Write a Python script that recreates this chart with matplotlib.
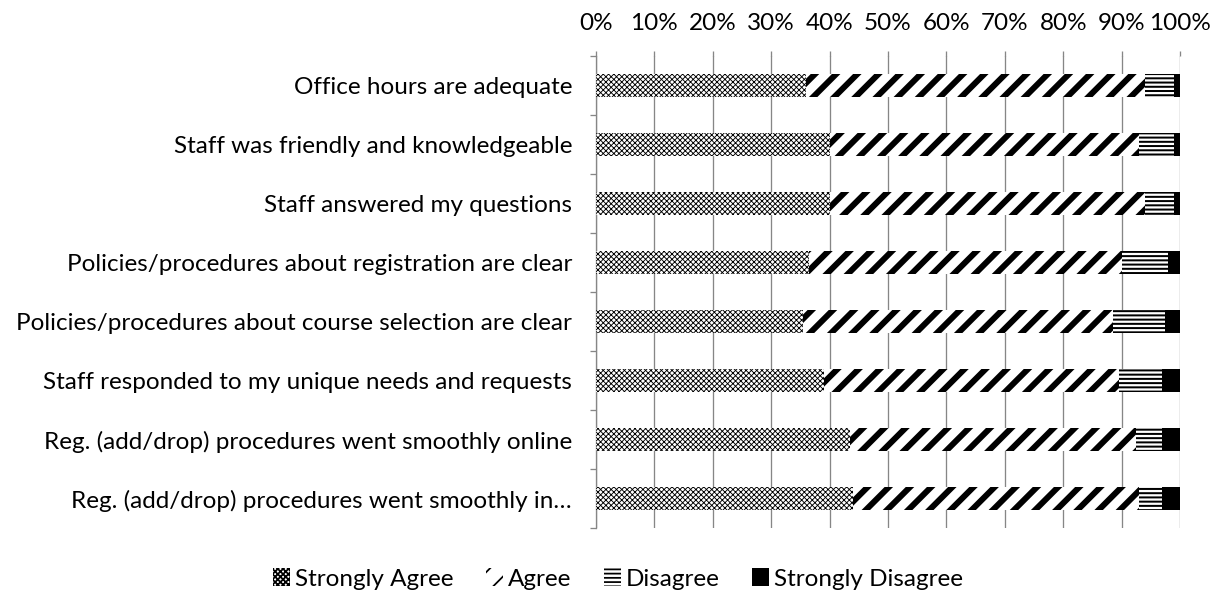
import numpy as np
import matplotlib
matplotlib.use('Agg')
import matplotlib.pyplot as plt
from matplotlib.ticker import PercentFormatter

# data (percent of responses)
questions = ['Office hours are adequate',
             'Staff was friendly and knowledgeable',
             'Staff answered my questions',
             'Policies/procedures about registration are clear',
             'Policies/procedures about course selection are clear',
             'Staff responded to my unique needs and requests',
             'Reg. (add/drop) procedures went smoothly online',
             'Reg. (add/drop) procedures went smoothly in\u2026']
strongly_agree = [36, 40, 40, 36.5, 35.5, 39, 43.5, 44]
agree = [58, 53, 54, 53.5, 53, 50.5, 49, 49]
disagree = [5, 6, 5, 8, 9, 7.5, 4.5, 4]
strongly_disagree = [1, 1, 1, 2, 2.5, 3, 3, 3]
series = ['Strongly Agree', 'Agree', 'Disagree', 'Strongly Disagree']

DPI = 127  # picked so the hatch spacing comes out close to the original


def pt(px):
    # pixel size -> points at this dpi
    return px * 72.0 / DPI


plt.rcParams['font.family'] = ['Lato', 'DejaVu Sans']
fs = pt(24.3)
grey = '#868686'

fig = plt.figure(figsize=(1214 / DPI, 595 / DPI), dpi=DPI)
ax = fig.add_axes([596/1214, 1-528/595, 584/1214, 472/595])

y = np.arange(len(questions))
styles = [('xxxxxxxx', pt(0.9)), ('//', pt(6.0)), ('-----', pt(2.0)), ('', 1.0)]
left = np.zeros(len(questions))
for name, vals, (h, hlw) in zip(series, [strongly_agree, agree, disagree, strongly_disagree], styles):
    vals = np.array(vals)
    with plt.rc_context({'hatch.linewidth': hlw}):
        fc = 'black' if h == '' else 'white'
        bars = ax.barh(y, vals, left=left, height=0.39, color=fc, edgecolor='black',
                       linewidth=0, hatch=h if h else None, label=name, zorder=3)
    for p in bars:
        if hasattr(p, 'set_hatch_linewidth'):
            p.set_hatch_linewidth(hlw)
    left = left + vals

ax.set_xlim(0, 100)
ax.set_ylim(len(questions) - 0.5, -0.5)
ax.xaxis.set_major_formatter(PercentFormatter(decimals=0))
ax.set_xticks(np.arange(0, 101, 10))
ax.xaxis.tick_top()
ax.tick_params(axis='x', which='major', length=pt(5), width=pt(1.3), color=grey,
               pad=pt(17), labelsize=fs)
ax.grid(axis='x', color=grey, linewidth=pt(1.3), zorder=0)

ax.set_yticks(y)
ax.set_yticklabels(questions, fontsize=fs)
ax.tick_params(axis='y', which='major', length=0, pad=pt(24))
ax.set_yticks(np.arange(-0.5, len(questions), 1), minor=True)
ax.tick_params(axis='y', which='minor', length=pt(6), color=grey, width=pt(1.3))

for s in ['top', 'right', 'bottom']:
    ax.spines[s].set_visible(False)
ax.spines['left'].set_color(grey)
ax.spines['left'].set_linewidth(pt(1.3))

fig.legend(loc='center', bbox_to_anchor=(618/1214, 1-579/595), ncol=4, frameon=False,
           fontsize=fs, handlelength=0.7, handleheight=0.7, handletextpad=0.2,
           columnspacing=1.35)

fig.savefig('out.png', dpi=DPI)
